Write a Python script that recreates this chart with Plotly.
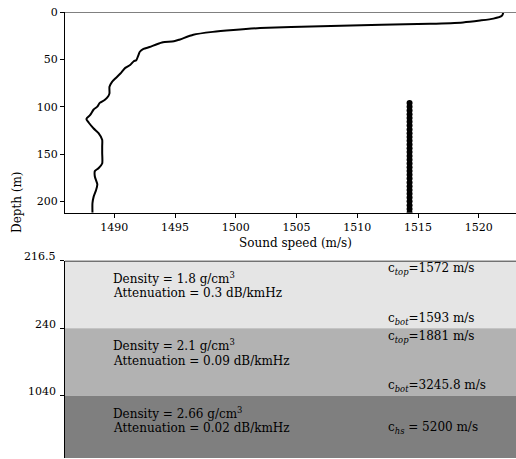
import plotly.graph_objects as go

# ---------------- data ----------------
depth = [0, 1, 4, 7, 9, 11, 12.5, 13.5, 15, 17, 19, 21, 24, 29, 31, 32, 34, 37, 39, 42,
         45, 51, 52, 56, 59, 65, 70, 74, 79, 86, 89, 93, 96, 100, 103, 109, 113, 117,
         123, 128, 135, 142, 149, 160, 165, 168, 174, 182, 188, 195, 202, 212]
speed = [1522.0, 1522.0, 1521.9, 1521.2, 1520.1, 1518.7, 1516.0, 1512.0, 1507.0, 1502.0,
         1499.8, 1498.1, 1496.5, 1495.4, 1494.9, 1494.0, 1493.5, 1492.9, 1492.4, 1492.1,
         1492.0, 1491.8, 1491.6, 1491.3, 1490.9, 1490.5, 1490.1, 1489.8, 1489.6, 1489.6,
         1489.5, 1489.2, 1488.8, 1488.6, 1488.3, 1488.0, 1487.7, 1487.9, 1488.3, 1488.7,
         1489.0, 1489.0, 1489.0, 1489.0, 1488.7, 1488.4, 1488.4, 1488.6, 1488.5, 1488.3,
         1488.2, 1488.2]

receiver_speed = 1514.3
receiver_depths = [96, 100, 104, 108, 112, 116, 120, 124, 128, 132, 136, 140, 144, 148,
                   152, 156, 160, 164, 168, 172, 176, 180, 184, 188, 192, 196, 200, 204,
                   208, 212]

x_ticks = [1490, 1495, 1500, 1505, 1510, 1515, 1520]
y_ticks = [0, 50, 100, 150, 200]

layer_labels = ["216.5", "240", "1040"]
layer_colors = ["#e5e5e5", "#b2b2b2", "#7f7f7f"]
densities = ["1.8", "2.1", "2.66"]
attenuations = ["0.3", "0.09", "0.02"]
c_top = ["1572", "1881"]
c_bot = ["1593", "3245.8"]
c_hs = "5200"

FONT = "DejaVu Serif"
FS = 12
TFS = 11

fig = go.Figure()

# sound speed profile
fig.add_trace(go.Scatter(x=speed, y=depth, mode="lines",
                         line=dict(color="black", width=2, shape="spline", smoothing=0.6),
                         xaxis="x", yaxis="y", showlegend=False, hoverinfo="skip"))
# receivers
fig.add_trace(go.Scatter(x=[receiver_speed] * len(receiver_depths), y=receiver_depths,
                         mode="markers", marker=dict(color="black", size=6),
                         xaxis="x", yaxis="y", showlegend=False, hoverinfo="skip"))

# gray line at surface
fig.add_shape(type="line", xref="x domain", yref="y", x0=0, x1=1, y0=0, y1=0,
              line=dict(color="#808080", width=2.2), layer="above")

# layers (bottom panel, index coordinates)
n_layers = len(layer_labels)
for i in range(n_layers):
    fig.add_shape(type="rect", xref="x2 domain", yref="y2", x0=0, x1=1,
                  y0=i, y1=i + 1, fillcolor=layer_colors[i], line=dict(width=0),
                  layer="below")
# top border of bottom panel
fig.add_shape(type="line", xref="x2 domain", yref="y2", x0=0, x1=1, y0=0, y1=0,
              line=dict(color="black", width=1.5), layer="above")

tfont = dict(family=FONT, size=FS, color="black")
kfont = dict(family=FONT, size=TFS, color="black")

# layer tick labels (placed slightly above ticks as in reference)
for i, lab in enumerate(layer_labels):
    fig.add_annotation(text=lab, xref="x2 domain", yref="y2", x=0, y=i,
                       xanchor="right", yanchor="middle", xshift=-7, yshift=4,
                       showarrow=False, font=kfont)

LX = 0.102
RX = 0.712
for i in range(n_layers):
    fig.add_annotation(text=f"Density = {densities[i]} g/cm<sup>3</sup>", xref="x2 domain",
                       yref="y2", x=LX, y=i + 0.255, xanchor="left", yanchor="middle",
                       showarrow=False, font=tfont)
    fig.add_annotation(text=f"Attenuation = {attenuations[i]} dB/kmHz", xref="x2 domain",
                       yref="y2", x=LX, y=i + 0.48, xanchor="left", yanchor="middle",
                       showarrow=False, font=tfont)
for i in range(len(c_top)):
    fig.add_annotation(text=f"c<sub><i>top</i></sub>={c_top[i]} m/s", xref="x2 domain",
                       yref="y2", x=RX, y=i + 0.13, xanchor="left", yanchor="middle",
                       showarrow=False, font=tfont)
    fig.add_annotation(text=f"c<sub><i>bot</i></sub>={c_bot[i]} m/s", xref="x2 domain",
                       yref="y2", x=RX, y=i + 0.86, xanchor="left", yanchor="middle",
                       showarrow=False, font=tfont)
fig.add_annotation(text=f"c<sub><i>hs</i></sub> = {c_hs} m/s", xref="x2 domain",
                   yref="y2", x=RX, y=2.47, xanchor="left", yanchor="middle",
                   showarrow=False, font=tfont)

# axis titles
fig.add_annotation(text="Sound speed (m/s)", xref="paper", yref="paper", x=0.51, y=0.483,
                   xanchor="center", yanchor="middle", showarrow=False, font=tfont)
fig.add_annotation(text="Depth (m)", xref="paper", yref="paper", x=0, y=0.574,
                   xshift=-48, textangle=-90, xanchor="center", yanchor="middle",
                   showarrow=False, font=tfont)

axis_common = dict(showgrid=False, zeroline=False, showline=True, linecolor="black",
                   linewidth=1.2, ticks="outside", ticklen=4, tickwidth=1,
                   tickcolor="black", tickfont=kfont)

fig.update_layout(
    width=516, height=459,
    margin=dict(l=65, r=0, t=12, b=1),
    paper_bgcolor="white", plot_bgcolor="white",
    font=dict(family=FONT, size=FS, color="black"),
    showlegend=False,
    xaxis=dict(domain=[0, 1], range=[1485.94, 1523.06], tickvals=x_ticks,
               anchor="y", **axis_common),
    yaxis=dict(domain=[0.550, 1], range=[212, 0], tickvals=y_ticks,
               anchor="x", **axis_common),
    xaxis2=dict(domain=[0, 1], range=[0, 1], visible=False, anchor="y2"),
    yaxis2=dict(domain=[0, 0.4424], range=[2.92, 0], tickvals=[0, 1, 2],
                showticklabels=False, anchor="x2", **axis_common),
)

fig.write_html("out.html")
